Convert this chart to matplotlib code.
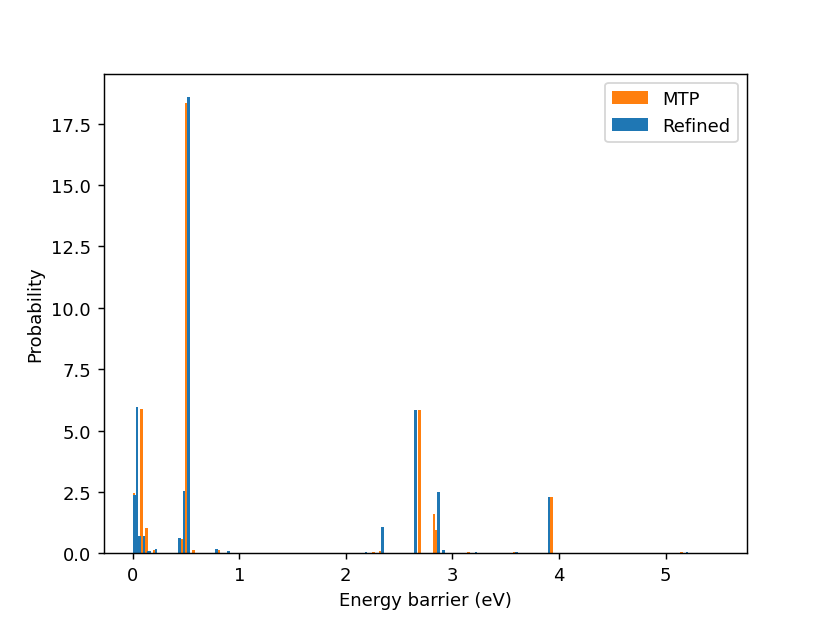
import matplotlib
matplotlib.use("Agg")
import matplotlib.pyplot as plt

# bar centres (eV) and probability density
mtp_energy = [0.010, 0.083, 0.127, 0.200, 0.459, 0.502, 0.568, 0.808,
              1.30, 1.45, 2.26, 2.32, 2.693, 2.828, 2.850, 3.02, 3.15,
              3.578, 3.930, 4.645, 5.150]
mtp_prob = [2.45, 5.90, 1.03, 0.15, 0.57, 18.35, 0.16, 0.13,
            0.01, 0.01, 0.04, 0.12, 5.85, 1.60, 0.94, 0.02, 0.05,
            0.08, 2.28, 0.02, 0.07]

refined_energy = [0.016, 0.040, 0.064, 0.105, 0.142, 0.160, 0.220, 0.437,
                  0.480, 0.524, 0.784, 0.900, 1.22, 1.47, 2.19, 2.343,
                  2.653, 2.871, 2.916, 3.22, 3.600, 3.908, 4.36, 5.08, 5.200]
refined_prob = [2.40, 5.95, 0.73, 0.73, 0.10, 0.10, 0.20, 0.64,
                2.55, 18.60, 0.20, 0.10, 0.03, 0.02, 0.04, 1.06,
                5.85, 2.52, 0.16, 0.08, 0.08, 2.28, 0.01, 0.01, 0.08]

BAR_W = 0.024

fig, ax = plt.subplots(figsize=(6.385, 4.792), dpi=130)
ax.bar(mtp_energy, mtp_prob, width=BAR_W, color="#ff7f0e", label="MTP")
ax.bar(refined_energy, refined_prob, width=BAR_W, color="#1f77b4", label="Refined")

ax.set_xlim(-0.272, 5.765)
ax.set_xlabel("Energy barrier (eV)")
ax.set_ylabel("Probability")
ax.legend(loc="upper right")

fig.savefig("out.png")
